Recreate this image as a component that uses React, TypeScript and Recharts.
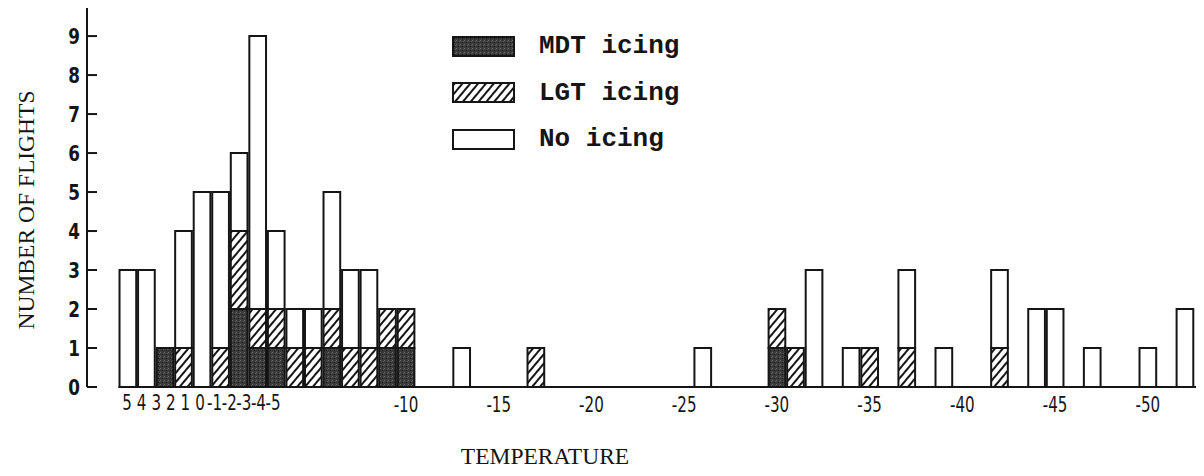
import React from 'react';
import { BarChart, Bar, XAxis, YAxis, Legend, ReferenceLine } from 'recharts';

// ---- data ----
const temperatures = [5, 4, 3, 2, 1, 0, -1, -2, -3, -4, -5, -6, -7, -8, -9, -10, -13, -17, -26, -30, -31, -32, -34, -35, -37, -39, -42, -44, -45, -47, -50, -52];
const mdtIcing =     [0, 0, 1, 0, 0, 0,  2,  1,  1,  0,  0,  1,  0,  0,  1,  1,   0,   0,   0,   1,   0,   0,   0,   0,   0,   0,   0,   0,   0,   0,   0,   0];
const lgtIcing =     [0, 0, 0, 1, 0, 1,  2,  1,  1,  1,  1,  1,  1,  1,  1,  1,   0,   1,   0,   1,   1,   0,   0,   1,   1,   0,   1,   0,   0,   0,   0,   0];
const noIcing =      [3, 3, 0, 3, 5, 4,  2,  7,  2,  1,  1,  3,  2,  2,  0,  0,   1,   0,   1,   0,   0,   3,   1,   0,   2,   1,   2,   2,   2,   1,   1,   2];

const yTicks = [0, 1, 2, 3, 4, 5, 6, 7, 8, 9];
const nearTicks = [5, 4, 3, 2, 1, 0, -1, -2, -3, -4, -5];
const farTicks = [-10, -15, -20, -25, -30, -35, -40, -45, -50];

const seriesOrder = ['mdt', 'lgt', 'none'];
const seriesNames: Record<string, string> = { mdt: 'MDT icing', lgt: 'LGT icing', none: 'No icing' };

const data = temperatures.map((t, i) => ({ temp: t, mdt: mdtIcing[i], lgt: lgtIcing[i], none: noIcing[i] }));

// ---- layout ----
const W = 1192;
const H = 460;
const Y_AXIS_W = 79;
const margin = { top: 0, right: 4, bottom: 79, left: 0 };
const X_DOMAIN: [number, number] = [-52.6, 7.2];
const NEAR_DOMAIN: [number, number] = [-68.2, 7.74];
const plotW = W - margin.left - margin.right - Y_AXIS_W;
const barSize = plotW / (X_DOMAIN[1] - X_DOMAIN[0]);

const INK = '#151515';
const tickFont = "'DejaVu Sans Condensed', 'Liberation Sans Narrow', 'Liberation Sans', sans-serif";
const titleFont = "'Liberation Serif', 'DejaVu Serif', serif";
const legendFont = "'Liberation Mono', 'DejaVu Sans Mono', monospace";
const TICK_SIZE = 21;
const TICK_SQUEEZE = 0.8;

const Patterns = ({ prefix }: { prefix: string }) => (
  <defs>
    <pattern id={`${prefix}mdt`} width="4" height="4" patternUnits="userSpaceOnUse">
      <rect width="4" height="4" fill="#3a3a3a" />
      <rect x="0" y="0" width="1" height="1" fill="#6e6e6e" />
      <rect x="2" y="2" width="1" height="1" fill="#151515" />
      <rect x="3" y="1" width="1" height="1" fill="#585858" />
    </pattern>
    <pattern id={`${prefix}lgt`} width="6" height="6" patternUnits="userSpaceOnUse" patternTransform="rotate(40)">
      <rect width="6" height="6" fill="#ffffff" />
      <line x1="3" y1="0" x2="3" y2="6" stroke={INK} strokeWidth="2" />
    </pattern>
  </defs>
);

const YTick = (props: any) => {
  const { x, y, payload } = props;
  return (
    <g>
      <line x1={x + 7} x2={x + 17} y1={y} y2={y} stroke={INK} strokeWidth={2} />
      <text
        transform={`translate(${x},${y}) scale(0.85,1)`}
        dy="0.36em"
        textAnchor="end"
        fontFamily={tickFont}
        fontWeight={700}
        fontSize={22}
        fill={INK}
      >
        {payload.value}
      </text>
    </g>
  );
};

const XTick = (props: any) => {
  const { x, y, payload } = props;
  return (
    <text
      transform={`translate(${x},${y}) scale(${TICK_SQUEEZE},1)`}
      dy="0.74em"
      textAnchor="middle"
      fontFamily={tickFont}
      fontSize={TICK_SIZE}
      fill={INK}
    >
      {payload.value}
    </text>
  );
};

const swatchFill: Record<string, string> = { mdt: 'url(#lg-mdt)', lgt: 'url(#lg-lgt)', none: '#ffffff' };

const LegendContent = () => (
  <div style={{ display: 'flex', flexDirection: 'column' }}>
    <svg width={0} height={0} style={{ position: 'absolute' }}>
      <Patterns prefix="lg-" />
    </svg>
    {seriesOrder.map((k) => (
      <div key={k} style={{ display: 'flex', alignItems: 'center', height: 46.5 }}>
        <svg width={63} height={21} style={{ display: 'block' }}>
          <rect x={1} y={1} width={61} height={19} fill={swatchFill[k]} stroke={INK} strokeWidth={2} />
        </svg>
        <span style={{ marginLeft: 24, fontFamily: legendFont, fontWeight: 700, fontSize: 26, color: INK, lineHeight: 1 }}>
          {seriesNames[k]}
        </span>
      </div>
    ))}
  </div>
);

export default function App() {
  return (
    <div style={{ position: 'relative', width: W, height: H, background: '#fff' }}>
      <BarChart width={W} height={H} data={data} margin={margin} barCategoryGap={0} barGap={0}>
        <Patterns prefix="" />
        <XAxis
          dataKey="temp"
          type="number"
          reversed
          domain={X_DOMAIN}
          allowDataOverflow
          ticks={farTicks}
          interval={0}
          axisLine={false}
          tickLine={false}
          tickSize={0}
          tickMargin={9}
          height={1}
          tick={<XTick />}
        />
        <XAxis
          xAxisId="near"
          dataKey="temp"
          type="number"
          reversed
          domain={NEAR_DOMAIN}
          allowDataOverflow
          ticks={nearTicks}
          interval={0}
          axisLine={false}
          tickLine={false}
          tickSize={0}
          tickMargin={6}
          height={1}
          tick={<XTick />}
        />
        <YAxis
          type="number"
          domain={[0, 9.72]}
          ticks={yTicks}
          interval={0}
          width={Y_AXIS_W}
          axisLine={{ stroke: INK, strokeWidth: 2 }}
          tickLine={false}
          tickSize={0}
          tickMargin={7}
          tick={<YTick />}
        />
        <ReferenceLine
          segment={[{ x: 5.5, y: 0 }, { x: -52.6, y: 0 }]}
          stroke={INK}
          strokeWidth={2}
          ifOverflow="visible"
        />
        <Bar dataKey="mdt" name={seriesNames.mdt} stackId="f" fill="url(#mdt)" stroke={INK} strokeWidth={2} barSize={barSize} isAnimationActive={false} />
        <Bar dataKey="lgt" name={seriesNames.lgt} stackId="f" fill="url(#lgt)" stroke={INK} strokeWidth={2} barSize={barSize} isAnimationActive={false} />
        <Bar dataKey="none" name={seriesNames.none} stackId="f" fill="#ffffff" stroke={INK} strokeWidth={2} barSize={barSize} isAnimationActive={false} />
        <Legend
          layout="horizontal"
          verticalAlign="middle"
          align="center"
          content={<LegendContent />}
          wrapperStyle={{ left: 444, top: 15, width: 'auto' }}
        />
      </BarChart>
      <div
        style={{
          position: 'absolute',
          left: 18,
          top: 202,
          transform: 'translate(-50%, -50%) rotate(-90deg)',
          fontFamily: titleFont,
          fontSize: 23.5,
          color: INK,
          whiteSpace: 'nowrap',
        }}
      >
        NUMBER OF FLIGHTS
      </div>
      <div
        style={{
          position: 'absolute',
          left: 537,
          top: 448,
          transform: 'translate(-50%, -50%)',
          fontFamily: titleFont,
          fontSize: 23.5,
          color: INK,
          whiteSpace: 'nowrap',
        }}
      >
        TEMPERATURE
      </div>
    </div>
  );
}
